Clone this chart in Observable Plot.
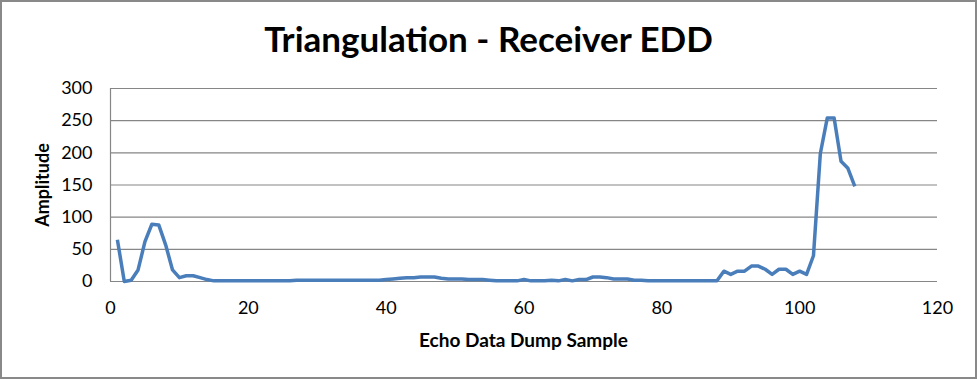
<!DOCTYPE html>
<html>
<head>
<meta charset="utf-8">
<script src="https://cdn.jsdelivr.net/npm/d3@7"></script>
<script src="https://cdn.jsdelivr.net/npm/@observablehq/plot@0.6"></script>
<style>
  html, body { margin: 0; padding: 0; background: #fff; }
  #wrap { position: relative; width: 977px; height: 379px; overflow: hidden; font-family: Lato, "Open Sans", sans-serif; }
  #frame { position: absolute; left: 0; top: 0; width: 977px; height: 379px; box-sizing: border-box; border: 2px solid #898989; pointer-events: none; }
  #title { position: absolute; left: 0; width: 977px; top: 17px; text-align: center; font-weight: 700; font-size: 35px; color: #000; }
  #ytitle { position: absolute; left: 42px; top: 185px; transform: translate(-50%, -50%) rotate(-90deg); font-weight: 700; font-size: 18px; white-space: nowrap; }
  #xtitle { position: absolute; left: 0; width: 1047px; top: 328px; text-align: center; font-weight: 700; font-size: 19px; }
  #chart { position: absolute; left: 0; top: 0; }
</style>
</head>
<body>
<div id="wrap">
  <div id="chart"></div>
  <div id="title">Triangulation - Receiver EDD</div>
  <div id="ytitle">Amplitude</div>
  <div id="xtitle">Echo Data Dump Sample</div>
  <div id="frame"></div>
</div>
<script>
const samples = d3.range(1, 109);
const amplitude = [
  65, 0, 2, 18, 62, 89, 88, 57, 18, 6,
  9, 9, 6, 3, 1, 1, 1, 1, 1, 1,
  1, 1, 1, 1, 1, 1, 2, 2, 2, 2,
  2, 2, 2, 2, 2, 2, 2, 2, 2, 3,
  4, 5, 6, 6, 7, 7, 7, 5, 4, 4,
  4, 3, 3, 3, 2, 1, 1, 1, 1, 3,
  1, 1, 1, 2, 1, 3, 1, 3, 3, 7,
  7, 6, 4, 4, 4, 2, 2, 1, 1, 1,
  1, 1, 1, 1, 1, 1, 1, 1, 16, 11,
  16, 16, 24, 24, 19, 11, 19, 19, 11, 16,
  11, 40, 199, 254, 254, 187, 176, 148
];
const xTicks = [0, 20, 40, 60, 80, 100, 120];
const yTicks = [0, 50, 100, 150, 200, 250, 300];

const data = samples.map((s, i) => ({sample: s, amp: amplitude[i]}));

const chart = Plot.plot({
  width: 977,
  height: 379,
  marginTop: 88,
  marginLeft: 110,
  marginRight: 40,
  marginBottom: 98,
  style: { fontFamily: "Lato, 'Open Sans', sans-serif", fontSize: "18px", color: "#000", background: "transparent" },
  x: { domain: [0, 120], ticks: xTicks, tickSize: 0, tickPadding: 20, label: null },
  y: { domain: [0, 300], ticks: yTicks, tickSize: 0, tickPadding: 18, label: null },
  marks: [
    Plot.gridY(yTicks, { stroke: "#868686", strokeOpacity: 1, strokeWidth: 1.2 }),
    Plot.ruleX([0], { stroke: "#868686", strokeWidth: 1.2 }),
    Plot.ruleY([0], { stroke: "#868686", strokeWidth: 1.2 }),
    Plot.lineY(data, { x: "sample", y: "amp", stroke: "#4A7EBB", strokeWidth: 3.5, strokeLinejoin: "round", strokeLinecap: "butt" })
  ]
});
document.getElementById("chart").appendChild(chart);
</script>
</body>
</html>
